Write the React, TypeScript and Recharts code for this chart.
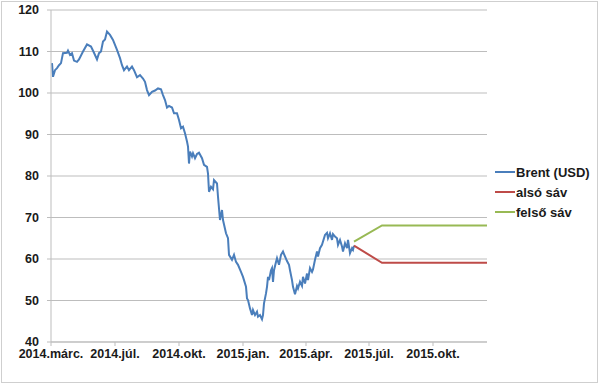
import { LineChart, Line, XAxis, YAxis, CartesianGrid, Legend } from "recharts"

// x = trading day counted from the first point of the chart
const brentDays = [
  1, 2, 4, 6, 8, 10, 12, 16, 17, 19, 21, 23, 26, 28, 32, 36, 40, 43, 46, 48, 50, 52, 54, 56, 59, 62, 66, 69, 71, 73,
  76, 78, 81, 83, 86, 89, 92, 94, 96, 98, 101, 104, 107, 110, 112, 114, 116, 118, 121, 123, 126, 128, 130, 132, 134,
  136, 137, 138, 139, 141, 142, 144, 146, 148, 151, 153, 156, 157, 158, 160, 162, 163, 166, 167, 169, 171, 172, 175,
  177, 178, 181, 183, 185, 187, 190, 192, 195, 196, 197, 199, 201, 202, 204, 206, 207, 209, 211, 212, 213, 215, 216,
  217, 218, 220, 221, 222, 223, 225, 226, 228, 229, 230, 232, 233, 236, 238, 239, 241, 242, 244, 246, 247, 249, 251,
  252, 254, 256, 257, 259, 261, 262, 264, 266, 267, 269, 271, 272, 274, 276, 277, 279, 281, 282, 284, 286, 287, 289,
  291, 292, 294, 296, 297, 299, 301, 302, 303,
]
const brentValues = [
  107.2, 103.9, 105.5, 106, 106.7, 107.2, 109.6, 109.7, 110.2, 109.2, 109.6, 107.8, 107.5, 108.1, 110, 111.7, 111.2,
  109.7, 108.1, 109.6, 110, 112.4, 112.9, 114.8, 114, 112.8, 110.4, 108.4, 106.7, 105.5, 106.4, 105.5, 106.4, 105.5,
  103.8, 104.3, 103.5, 102.7, 100.7, 99.5, 100.3, 100.6, 101.1, 100.9, 99.5, 98.3, 96.5, 96.9, 96.5, 95.1, 95.1, 93.5,
  91.5, 91.9, 90.3, 88.3, 87.1, 83, 85.9, 84.7, 85.5, 84.3, 85.3, 85.6, 84.3, 82.7, 82.2, 80.6, 76.2, 77.4, 76.8, 79,
  78.2, 75, 69.4, 71.8, 69.4, 66.2, 65, 61, 59.8, 61, 59.3, 58.6, 56.9, 55.7, 53.3, 50.5, 50.1, 48.1, 46.5, 47.7, 46.5,
  47.3, 46.1, 46.5, 45.5, 46.5, 49.3, 51.7, 53.3, 55.7, 54.9, 57.3, 57.8, 54.5, 57.3, 59.3, 60.2, 58.6, 59.8, 61, 61.8,
  61.2, 59.5, 58.6, 57.3, 54.9, 53.3, 51.5, 53.5, 52.9, 54.5, 53.5, 55.7, 54.1, 56.5, 54.9, 57.8, 56.9, 57.5, 59.8,
  61.8, 60.6, 62.6, 63.4, 64.2, 65.8, 66.3, 65, 66.2, 64.6, 66, 65.4, 65, 63.4, 64.6, 63, 61.8, 63.8, 62.6, 64.6, 61.4,
  62.6, 62.2, 63.2,
]

const bandDays = [303, 331, 436]
const lowerBand = [63.2, 59.1, 59.1]
const upperBand = [64.2, 68.1, 68.1]

const tickDays = [0, 64, 128, 192, 255, 318, 382]
const tickLabels = ["2014.márc.", "2014.júl.", "2014.okt.", "2015.jan.", "2015.ápr.", "2015.júl.", "2015.okt."]

const brentData = brentDays.map((d, i) => ({ day: d, value: brentValues[i] }))
const lowerData = bandDays.map((d, i) => ({ day: d, value: lowerBand[i] }))
const upperData = bandDays.map((d, i) => ({ day: d, value: upperBand[i] }))

const FONT = "'Liberation Sans', Arial, sans-serif"

const legendItems = [
  { label: "Brent (USD)", color: "#4a7ebb" },
  { label: "alsó sáv", color: "#be4b48" },
  { label: "felső sáv", color: "#98b954" },
]

function renderLegend() {
  return (
    <div style={{ fontFamily: FONT, fontSize: 13, fontWeight: "bold", color: "#1a1a1a" }}>
      {legendItems.map((item) => (
        <div key={item.label} style={{ display: "flex", alignItems: "center", height: 20 }}>
          <span style={{ display: "inline-block", width: 20, height: 2, background: item.color, marginRight: 1 }} />
          <span>{item.label}</span>
        </div>
      ))}
    </div>
  )
}

export default function App() {
  const tickStyle = { fontFamily: FONT, fontSize: 12.5, fontWeight: "bold", fill: "#1a1a1a" }
  return (
    <div style={{ position: "absolute", left: 0, top: 0, width: 600, height: 386, background: "#fff" }}>
      <div
        style={{
          position: "absolute",
          left: 1,
          top: 1,
          width: 597,
          height: 382,
          border: "1px solid #cfcfcf",
          boxSizing: "border-box",
        }}
      />
      <div style={{ position: "absolute", left: 0, top: 0 }}>
        {/* the vertical legend takes its 100px out of the right side */}
        <LineChart width={600} height={386} margin={{ top: 10, right: 13, left: 11, bottom: 14 }}>
          <CartesianGrid vertical={false} stroke="#bdbdbd" strokeWidth={1} />
          <XAxis
            dataKey="day"
            type="number"
            domain={[0, 436]}
            ticks={tickDays}
            tickFormatter={(v: number) => tickLabels[tickDays.indexOf(v)] ?? ""}
            allowDataOverflow
            height={30}
            tickSize={4}
            tickMargin={3}
            stroke="#bdbdbd"
            tick={tickStyle}
            interval={0}
          />
          <YAxis
            type="number"
            domain={[40, 120]}
            ticks={[40, 50, 60, 70, 80, 90, 100, 110, 120]}
            width={40}
            tickSize={4}
            tickMargin={8}
            stroke="#bdbdbd"
            tick={tickStyle}
          />
          <Legend
            content={renderLegend}
            layout="vertical"
            align="right"
            verticalAlign="top"
            wrapperStyle={{ left: 495, top: 162, width: 100 }}
          />
          <Line
            data={brentData}
            dataKey="value"
            name="Brent (USD)"
            stroke="#4a7ebb"
            strokeWidth={2}
            dot={false}
            type="linear"
            isAnimationActive={false}
          />
          <Line
            data={lowerData}
            dataKey="value"
            name="alsó sáv"
            stroke="#be4b48"
            strokeWidth={2}
            dot={false}
            type="linear"
            isAnimationActive={false}
          />
          <Line
            data={upperData}
            dataKey="value"
            name="felső sáv"
            stroke="#98b954"
            strokeWidth={2}
            dot={false}
            type="linear"
            isAnimationActive={false}
          />
        </LineChart>
      </div>
    </div>
  )
}
